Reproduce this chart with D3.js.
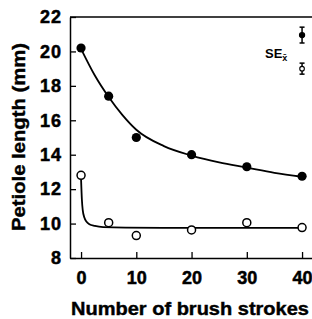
<!DOCTYPE html>
<html>
<head>
<meta charset="utf-8">
<script src="https://cdn.jsdelivr.net/npm/d3@7"></script>
<style>
  body { margin: 0; background: #fff; }
  text { font-family: Arial, "Liberation Sans", sans-serif; font-weight: bold; }
</style>
</head>
<body>
<div id="chart"></div>
<script>
// brush strokes and measured petiole length (mm)
const strokes = [0, 5, 10, 20, 30, 40];
const filledMeans = [20.2, 17.4, 15.0, 14.0, 13.3, 12.75];
const openMeans = [12.8, 10.05, 9.3, 9.63, 10.05, 9.77];

// fitted curves
const filledCurveX = [0, 2.5, 5, 7.5, 10, 15, 20, 25, 30, 35, 40];
const filledCurveY = [20.15, 18.6, 17.35, 16.3, 15.45, 14.5, 13.95, 13.55, 13.25, 12.95, 12.72];
const openCurveX = [0, 0.15, 0.3, 0.6, 1, 1.5, 2.5, 4, 8, 20, 40];
const openCurveY = [12.6, 11.4, 10.8, 10.35, 10.1, 9.96, 9.86, 9.79, 9.76, 9.75, 9.75];

// standard error markers
const seCentre = [20.95, 19.0];
const seHalf = [0.46, 0.32];

const yTicks = [8, 10, 12, 14, 16, 18, 20, 22];
const xTicks = [0, 10, 20, 30, 40];

let dimensions = {
  width: 312,
  height: 319,
  margin: { top: 17, right: 0, bottom: 61, left: 70 },
};
dimensions.boundedWidth = dimensions.width - dimensions.margin.left - dimensions.margin.right;
dimensions.boundedHeight = dimensions.height - dimensions.margin.top - dimensions.margin.bottom;

const svg = d3.select("#chart").append("svg")
  .attr("width", dimensions.width)
  .attr("height", dimensions.height);

const bounds = svg.append("g")
  .attr("transform", `translate(${dimensions.margin.left}, ${dimensions.margin.top})`);

const xScale = d3.scaleLinear().domain([-2, 41.8]).range([0, dimensions.boundedWidth]);
const yScale = d3.scaleLinear().domain([8, 22]).range([dimensions.boundedHeight, 0]);

// frame: top line
bounds.append("line")
  .attr("x1", 0).attr("x2", dimensions.boundedWidth)
  .attr("y1", 0).attr("y2", 0)
  .attr("stroke", "#000").attr("stroke-width", 1.5);

const yAxis = bounds.append("g")
  .call(d3.axisLeft(yScale).tickValues(yTicks).tickSizeInner(-6).tickSizeOuter(0).tickPadding(9));
const xAxis = bounds.append("g")
  .attr("transform", `translate(0, ${dimensions.boundedHeight})`)
  .call(d3.axisBottom(xScale).tickValues(xTicks).tickSizeInner(-6).tickSizeOuter(0).tickPadding(13));

[yAxis, xAxis].forEach((ax) => {
  ax.select(".domain").attr("stroke-width", 1.5);
  ax.selectAll(".tick line").attr("stroke-width", 1.3);
  ax.selectAll("text").attr("font-size", 18).attr("fill", "#000")
    .attr("stroke", "#000").attr("stroke-width", 0.5)
    .attr("font-family", "Arial, 'Liberation Sans', sans-serif").attr("font-weight", "bold");
});
// y labels a little wider, like the original lettering
yAxis.selectAll("text").attr("letter-spacing", 1).attr("dx", 1);

// curves
const line = d3.line()
  .x((d) => xScale(d[0]))
  .y((d) => yScale(d[1]))
  .curve(d3.curveMonotoneX);

bounds.append("path")
  .datum(filledCurveX.map((x, i) => [x, filledCurveY[i]]))
  .attr("d", line).attr("fill", "none").attr("stroke", "#000").attr("stroke-width", 1.8);
bounds.append("path")
  .datum(openCurveX.map((x, i) => [x, openCurveY[i]]))
  .attr("d", line).attr("fill", "none").attr("stroke", "#000").attr("stroke-width", 1.8);

// points
bounds.selectAll(".filled").data(strokes).enter().append("circle")
  .attr("cx", (d) => xScale(d))
  .attr("cy", (d, i) => yScale(filledMeans[i]))
  .attr("r", 4.6).attr("fill", "#000");
bounds.selectAll(".open").data(strokes).enter().append("circle")
  .attr("cx", (d) => xScale(d))
  .attr("cy", (d, i) => yScale(openMeans[i]))
  .attr("r", 4).attr("fill", "#fff").attr("stroke", "#000").attr("stroke-width", 1.5);

// SE markers
const seGroup = bounds.append("g");
seCentre.forEach((c, i) => {
  const x = xScale(40);
  seGroup.append("line")
    .attr("x1", x).attr("x2", x)
    .attr("y1", yScale(c - seHalf[i])).attr("y2", yScale(c + seHalf[i]))
    .attr("stroke", "#000").attr("stroke-width", 1.5);
  [c - seHalf[i], c + seHalf[i]].forEach((v) => {
    seGroup.append("line")
      .attr("x1", x - 2.5).attr("x2", x + 2.5)
      .attr("y1", yScale(v)).attr("y2", yScale(v))
      .attr("stroke", "#000").attr("stroke-width", 1.5);
  });
  seGroup.append("circle")
    .attr("cx", x).attr("cy", yScale(c))
    .attr("r", i === 0 ? 2.6 : 2.3)
    .attr("fill", i === 0 ? "#000" : "#fff")
    .attr("stroke", "#000").attr("stroke-width", 1.1);
});

const seLabel = svg.append("text")
  .attr("x", 265).attr("y", 58)
  .attr("font-size", 13);
seLabel.append("tspan").text("SE");
seLabel.append("tspan").attr("font-size", 9).attr("dy", 3).text("x\u0304");

// axis labels
svg.append("text")
  .attr("x", 190).attr("y", 315)
  .attr("text-anchor", "middle")
  .attr("font-size", 18)
  .attr("stroke", "#000").attr("stroke-width", 0.4)
  .attr("textLength", 238).attr("lengthAdjust", "spacingAndGlyphs")
  .text("Number of brush strokes");

svg.append("text")
  .attr("transform", "translate(25, 137) rotate(-90)")
  .attr("text-anchor", "middle")
  .attr("font-size", 18)
  .attr("stroke", "#000").attr("stroke-width", 0.4)
  .attr("textLength", 188).attr("lengthAdjust", "spacingAndGlyphs")
  .text("Petiole length (mm)");
</script>
</body>
</html>
